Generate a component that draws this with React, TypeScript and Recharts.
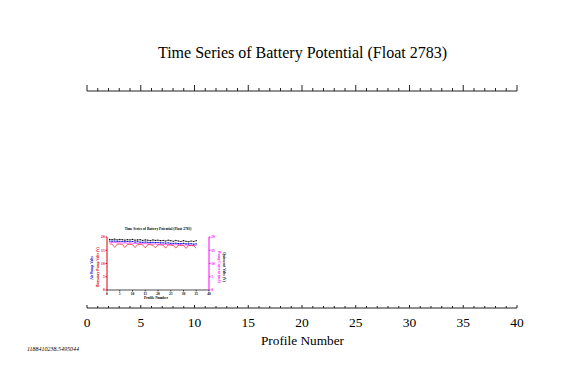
import { LineChart, Line, XAxis, YAxis } from 'recharts'

// main frame: profile axis 0..40, ticks every profile, labels every 5
const frameTicks = [
  0, 1, 2, 3, 4, 5, 6, 7, 8, 9, 10, 11, 12, 13, 14, 15, 16, 17, 18, 19, 20,
  21, 22, 23, 24, 25, 26, 27, 28, 29, 30, 31, 32, 33, 34, 35, 36, 37, 38, 39, 40,
]
const frameDomain = [0, 40]

// inset (thumbnail of the same plot)
const insetTicks = [0, 5, 10, 15, 20, 25, 30, 35, 40]
const insetYTicks = [0, 5, 10, 15, 20]
const profiles = [
  1, 2, 3, 4, 5, 6, 7, 8, 9, 10, 11, 12, 13, 14, 15, 16, 17, 18, 19, 20,
  21, 22, 23, 24, 25, 26, 27, 28, 29, 30, 31, 32, 33, 34, 35,
]
const quiescentVolts = [
  19.1, 19.0, 19.2, 18.9, 19.1, 19.0, 18.8, 19.0, 18.9, 19.1, 18.8, 18.9, 19.0, 18.7, 18.9, 18.8, 18.6, 18.9,
  18.7, 18.8, 18.6, 18.7, 18.5, 18.8, 18.6, 18.4, 18.7, 18.5, 18.3, 18.6, 18.4, 18.2, 18.5, 18.3, 18.6,
]
const airPumpVolts = [
  18.5, 18.4, 18.5, 18.3, 18.4, 18.3, 18.2, 18.3, 18.2, 18.3, 18.1, 18.2, 18.1, 18.0, 18.1, 18.0, 17.9, 18.0,
  17.9, 17.9, 17.8, 17.8, 17.7, 17.8, 17.6, 17.6, 17.7, 17.5, 17.5, 17.6, 17.4, 17.4, 17.5, 17.3, 17.4,
]
const pumpCurrent = [
  18.0, 17.9, 17.9, 17.8, 17.8, 17.7, 17.8, 17.6, 17.7, 17.6, 17.6, 17.5, 17.6, 17.4, 17.5, 17.4, 17.4, 17.3,
  17.4, 17.2, 17.3, 17.2, 17.2, 17.1, 17.2, 17.0, 17.1, 17.0, 17.0, 16.9, 17.0, 16.8, 16.9, 16.8, 16.8,
]
const buoyancyPumpVolts = [
  17.4, 17.3, 16.1, 17.3, 17.3, 17.2, 16.0, 17.2, 17.2, 17.1, 16.0, 17.1, 17.2, 17.0, 15.9, 17.1, 17.1, 16.9,
  15.9, 17.0, 17.0, 16.9, 15.8, 17.0, 16.9, 16.8, 15.8, 16.9, 16.9, 16.8, 15.7, 16.8, 16.8, 16.7, 15.8,
]

const serif = '"Liberation Serif", "Times New Roman", serif'

const frameData = [{ profile: frameDomain[0] }, { profile: frameDomain[1] }]

const insetData = profiles.map((p, i) => ({
  profile:  p,
  quiet:    quiescentVolts[i],
  air:      airPumpVolts[i],
  current:  pumpCurrent[i],
  buoyancy: buoyancyPumpVolts[i],
}))

const BottomTick = (props: any) => {
  const { x, y, payload } = props
  const major = payload.value % 5 === 0
  return (
    <g>
      <line x1={x} x2={x} y1={y} y2={y - (major ? 3 : 2)} stroke="#222" strokeWidth={1} />
      {major && (
        <text x={x} y={y + 19} textAnchor="middle" fontFamily={serif} fontSize={13.5} fill="#000">
          {payload.value}
        </text>
      )}
    </g>
  )
}

const TopTick = (props: any) => {
  const { x, y, payload } = props
  const major = payload.value % 5 === 0
  return <line x1={x} x2={x} y1={y} y2={y - (major ? 6 : 3)} stroke="#222" strokeWidth={1} />
}

const App = () => {
  return (
    <div style={{ position: 'absolute', left: 0, top: 0, width: 576, height: 379, background: '#fff' }}>
      <div style={{ position: 'absolute', left: 0, top: 0 }}>
        <LineChart width={576} height={379} data={frameData} margin={{ top: 0, right: 59, bottom: 0, left: 87 }}>
          <XAxis
            xAxisId="bottom"
            dataKey="profile"
            type="number"
            domain={frameDomain}
            ticks={frameTicks}
            interval={0}
            orientation="bottom"
            height={71}
            tickLine={false}
            tickSize={0}
            tickMargin={0}
            stroke="#222"
            strokeWidth={1.2}
            tick={<BottomTick />}
          />
          <XAxis
            xAxisId="top"
            dataKey="profile"
            type="number"
            domain={frameDomain}
            ticks={frameTicks}
            interval={0}
            orientation="top"
            height={91}
            tickLine={false}
            tickSize={0}
            tickMargin={0}
            stroke="#222"
            strokeWidth={1.2}
            tick={<TopTick />}
          />
          <YAxis hide domain={[0, 1]} />
          <Line xAxisId="bottom" dataKey="none" stroke="none" dot={false} isAnimationActive={false} />
          <Line xAxisId="top" dataKey="none" stroke="none" dot={false} isAnimationActive={false} />
        </LineChart>
      </div>

      <div style={{ position: 'absolute', left: 80, top: 225 }}>
        <LineChart width={150} height={80} data={insetData} margin={{ top: 12, right: 0, bottom: 0, left: 0 }}>
          <XAxis
            dataKey="profile"
            type="number"
            domain={[0, 40]}
            ticks={insetTicks}
            interval={0}
            height={15}
            stroke="#000"
            strokeWidth={0.7}
            tickSize={1.5}
            tickMargin={1}
            tick={{ fontSize: 3.6, fill: '#000', fontFamily: serif, fontWeight: 'bold' }}
          />
          <YAxis
            yAxisId="l"
            domain={[0, 20]}
            ticks={insetYTicks}
            interval={0}
            width={27}
            stroke="#e00000"
            strokeWidth={1}
            tickSize={1.5}
            tickMargin={0.8}
            tick={{ fontSize: 3.6, fill: '#e00000', fontFamily: serif, fontWeight: 'bold' }}
          />
          <YAxis
            yAxisId="r"
            orientation="right"
            domain={[0, 20]}
            ticks={insetYTicks}
            interval={0}
            width={21}
            stroke="#ff00ff"
            strokeWidth={1}
            tickSize={1.5}
            tickMargin={0.8}
            tick={{ fontSize: 3.6, fill: '#ff00ff', fontFamily: serif, fontWeight: 'bold' }}
          />
          <Line yAxisId="l" dataKey="quiet" stroke="#000" strokeWidth={0.5} dot={{ r: 0.6, fill: '#000', strokeWidth: 0 }} isAnimationActive={false} />
          <Line yAxisId="l" dataKey="air" stroke="#0000e0" strokeWidth={0.6} dot={{ r: 0.6, fill: '#0000e0', strokeWidth: 0 }} isAnimationActive={false} />
          <Line yAxisId="r" dataKey="current" stroke="#ff00ff" strokeWidth={0.6} dot={false} isAnimationActive={false} />
          <Line yAxisId="l" dataKey="buoyancy" stroke="#e00000" strokeWidth={0.6} dot={false} isAnimationActive={false} />
        </LineChart>
      </div>

      <svg width={576} height={379} style={{ position: 'absolute', left: 0, top: 0, pointerEvents: 'none' }}>
        <text x={302.5} y={58} textAnchor="middle" fontFamily={serif} fontSize={16} fill="#000">
          Time Series of Battery Potential (Float 2783)
        </text>
        <text x={302.5} y={344.5} textAnchor="middle" fontFamily={serif} fontSize={13.3} fill="#000">
          Profile Number
        </text>
        <text x={27} y={351} fontFamily={serif} fontStyle="italic" fontSize={6} fill="#000">
          1188410238.5495044
        </text>

        <text x={158} y={230} textAnchor="middle" fontFamily={serif} fontWeight="bold" fontSize={3.5} fill="#000">
          Time Series of Battery Potential (Float 2783)
        </text>
        <text x={156} y={299} textAnchor="middle" fontFamily={serif} fontWeight="bold" fontSize={3.6} fill="#000">
          Profile Number
        </text>
        <text x={92.5} y={268} textAnchor="middle" transform="rotate(-90 92.5 268)" fontFamily={serif} fontWeight="bold" fontSize={3.6} fill="#0000e0">
          Air Pump Volts
        </text>
        <text x={98.5} y={267} textAnchor="middle" transform="rotate(-90 98.5 267)" fontFamily={serif} fontWeight="bold" fontSize={3.6} fill="#e00000">
          Buoyancy Pump Volts (V)
        </text>
        <text x={218} y={267} textAnchor="middle" transform="rotate(90 218 267)" fontFamily={serif} fontWeight="bold" fontSize={3.6} fill="#ff00ff">
          Pump Current (mA)
        </text>
        <text x={223} y={267} textAnchor="middle" transform="rotate(90 223 267)" fontFamily={serif} fontWeight="bold" fontSize={3.6} fill="#000">
          Quiescent Volts (V)
        </text>
      </svg>
    </div>
  )
}

export default App
